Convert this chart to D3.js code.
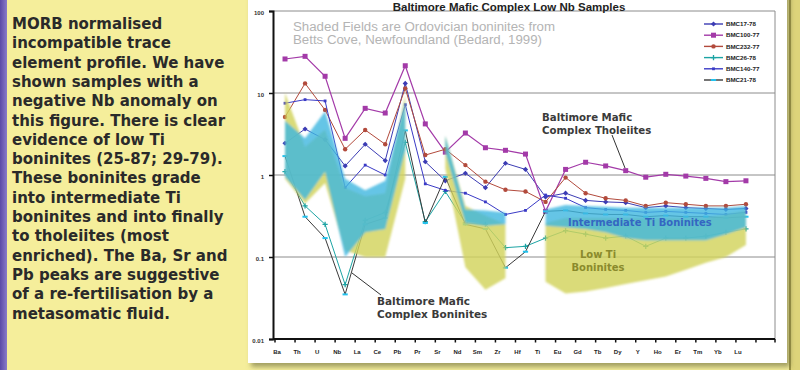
<!DOCTYPE html>
<html>
<head>
<meta charset="utf-8">
<script src="https://cdn.jsdelivr.net/npm/d3@7"></script>
<style>
  html, body { margin: 0; padding: 0; background: #f5ee9b; }
  svg { display: block; }
</style>
</head>
<body>
<svg id="chart" width="800" height="370"></svg>
<script>
// ---- Trace elements (x categories) ----
const elements = ["Ba","Th","U","Nb","La","Ce","Pb","Pr","Sr","Nd","Sm","Zr","Hf","Ti","Eu","Gd","Tb","Dy","Y","Ho","Er","Tm","Yb","Lu"];

// ---- MORB-normalised sample values ----
const bmc17_78  = [2.44, 3.64, 2.7, 1.29, 2.37, 1.5, 13.1, 1.45, 0.85, 1.05, 0.70, 1.39, 1.17, 0.54, 0.60, 0.49, 0.47, 0.46, 0.40, 0.42, 0.40, 0.39, 0.38, 0.39];
const bmc100_77 = [26, 28, 16, 2.8, 6.5, 5.7, 21.5, 4.2, 1.9, 3.25, 2.15, 2.0, 1.8, 0.36, 1.17, 1.43, 1.29, 1.13, 0.94, 1.02, 0.97, 0.91, 0.83, 0.85];
const bmc232_77 = [5.1, 13.1, 6.2, 2.06, 3.54, 2.37, 11.4, 1.75, 2.06, 1.32, 0.83, 0.66, 0.63, 0.47, 0.93, 0.60, 0.52, 0.49, 0.42, 0.46, 0.44, 0.42, 0.42, 0.44];
const bmc26_78  = [1.1, 0.42, 0.25, 0.046, 0.28, 0.35, 2.5, 0.27, 0.63, 0.26, 0.25, 0.13, 0.135, 0.17, 0.21, 0.19, 0.17, 0.18, 0.135, 0.17, 0.17, 0.18, 0.20, 0.22];
const bmc140_77 = [7.5, 8.3, 8.0, 0.70, 1.32, 1.0, 7.2, 0.78, 0.65, 0.60, 0.47, 0.33, 0.37, 0.57, 0.52, 0.40, 0.38, 0.37, 0.35, 0.36, 0.35, 0.34, 0.33, 0.35];
const bmc21_78  = [1.7, 0.31, 0.17, 0.035, 0.25, 0.30, 3.5, 0.26, 0.95, 0.25, 0.22, 0.074, 0.116, 0.36, 0.37, 0.34, 0.33, 0.33, 0.31, 0.32, 0.31, 0.31, 0.30, 0.31];

const seriesNames = ["BMC17-78", "BMC100-77", "BMC232-77", "BMC26-78", "BMC140-77", "BMC21-78"];
const seriesValues = [bmc17_78, bmc100_77, bmc232_77, bmc26_78, bmc140_77, bmc21_78];

// ---- Betts Cove boninite envelopes (Bedard, 1999) ----
const lowTiA_cats  = ["Ba","Th","U","Nb","La","Ce","Pb"];
const lowTiA_upper = [10, 2.2, 3.6, 0.7, 0.55, 0.6, 9.5];
const lowTiA_lower = [0.9, 0.45, 0.8, 0.12, 0.1, 0.1, 0.9];
const interA_upper = [4.6, 2.8, 6.0, 0.9, 0.65, 0.85, 8.0];
const interA_lower = [0.95, 0.5, 1.1, 0.1, 0.2, 0.22, 2.0];

const lowTiB_cats  = ["Sr","Nd","Sm","Zr"];
const lowTiB_upper = [3.0, 0.42, 0.32, 0.25];
const lowTiB_lower = [1.2, 0.075, 0.04, 0.055];
const interB_upper = [3.0, 0.38, 0.37, 0.35];
const interB_lower = [1.9, 0.26, 0.24, 0.25];

const lowTiC_cats  = ["Ti","Eu","Gd","Tb","Dy","Y","Ho","Er","Tm","Yb","Lu"];
const lowTiC_upper = [0.26, 0.3, 0.3, 0.3, 0.3, 0.3, 0.3, 0.3, 0.3, 0.33, 0.37];
const lowTiC_lower = [0.05, 0.036, 0.038, 0.042, 0.047, 0.052, 0.058, 0.07, 0.085, 0.1, 0.14];
const interC_upper = [0.38, 0.43, 0.42, 0.41, 0.4, 0.4, 0.4, 0.4, 0.4, 0.4, 0.42];
const interC_lower = [0.24, 0.23, 0.22, 0.2, 0.17, 0.16, 0.16, 0.16, 0.16, 0.19, 0.23];

// ---- Axis ticks ----
const yTickValues = [0.01, 0.1, 1, 10, 100];
const yTickLabels = ["0.01", "0.1", "1", "10", "100"];

// ---- Side text ----
const descLines = [
  "MORB normalised", "incompatible trace", "element profile. We have",
  "shown samples with a", "negative Nb anomaly on", "this figure. There is clear",
  "evidence of low Ti", "boninites (25-87; 29-79).", "These boninites grade",
  "into intermediate Ti", "boninites and into finally", "to tholeiites (most",
  "enriched). The Ba, Sr and", "Pb peaks are suggestive", "of a re-fertilisation by a",
  "metasomatic fluid."
];

// ---- Series styling ----
const seriesStyle = [
  { color: "#3c3cb4", marker: "diamond", width: 1 },
  { color: "#a33aa8", marker: "square",  width: 1.2 },
  { color: "#b24a3c", marker: "circle",  width: 1 },
  { color: "#1ca4a4", marker: "plus",    width: 1 },
  { color: "#3a3ac6", marker: "small",   width: 1 },
  { color: "#3a3a3a", marker: "dash",    width: 1, markerColor: "#22c2ee" }
];

const svg = d3.select("#chart");
const defs = svg.append("defs");

// Filters
const shadow = defs.append("filter").attr("id", "panelShadow")
  .attr("x", "-5%").attr("y", "-5%").attr("width", "115%").attr("height", "115%");
shadow.append("feDropShadow").attr("dx", 3).attr("dy", 4).attr("stdDeviation", 2.5)
  .attr("flood-color", "#6b6a3a").attr("flood-opacity", 0.6);

const soft = defs.append("filter").attr("id", "soft")
  .attr("x", "-10%").attr("y", "-10%").attr("width", "120%").attr("height", "120%");
soft.append("feGaussianBlur").attr("stdDeviation", 1.1);

const barGrad = defs.append("linearGradient").attr("id", "barGrad").attr("x1", 0).attr("x2", 1);
barGrad.append("stop").attr("offset", "0%").attr("stop-color", "#5a4aa6");
barGrad.append("stop").attr("offset", "100%").attr("stop-color", "#8a7cc8");

// Slide background and left accent bar
svg.append("rect").attr("x", 0).attr("y", 0).attr("width", 800).attr("height", 370).attr("fill", "#f5ee9b");
svg.append("rect").attr("x", 0).attr("y", 0).attr("width", 7).attr("height", 370).attr("fill", "url(#barGrad)");
svg.append("rect").attr("x", 791).attr("y", 0).attr("width", 9).attr("height", 370).attr("fill", "#ddd47a");
svg.append("rect").attr("x", 789).attr("y", 0).attr("width", 2).attr("height", 370).attr("fill", "#9c9444");

// Description text
const desc = svg.append("text")
  .attr("font-family", "DejaVu Sans, sans-serif")
  .attr("font-weight", "bold")
  .attr("font-size", 15)
  .attr("fill", "#2a2a2a");
descLines.forEach((line, i) => {
  desc.append("tspan").attr("x", 12).attr("y", 29 + i * 19.3).text(line);
});

// Chart panel
svg.append("rect").attr("x", 248).attr("y", -10).attr("width", 539).attr("height", 373)
  .attr("fill", "#ffffff").attr("filter", "url(#panelShadow)");

// Plot geometry
const plotLeft = 273, plotRight = 775, plotTop = 11, plotBottom = 339;
const step = 20.04;
const x = d3.scaleBand().domain(elements).range([275, 275 + step * elements.length]).padding(0);
const cx = d => x(d) + x.bandwidth() / 2;
const y = d3.scaleLog().domain([0.01, 100]).range([plotBottom, plotTop]);

// Horizontal gridlines
svg.append("g").selectAll("line").data([0.1, 1, 10]).join("line")
  .attr("x1", plotLeft).attr("x2", plotRight)
  .attr("y1", d => y(d)).attr("y2", d => y(d))
  .attr("stroke", "#8c8c8c").attr("stroke-width", 1);

// Plot frame (top and right)
svg.append("path")
  .attr("d", `M${plotLeft},${plotTop}H${plotRight}V${plotBottom}`)
  .attr("fill", "none").attr("stroke", "#8c8c8c").attr("stroke-width", 1);

// Series lines and markers
function drawMarker(g, type, px, py, color) {
  if (type === "diamond") {
    g.append("path").attr("d", `M${px},${py - 2.6}L${px + 2.6},${py}L${px},${py + 2.6}L${px - 2.6},${py}Z`).attr("fill", color);
  } else if (type === "square") {
    g.append("rect").attr("x", px - 2.5).attr("y", py - 2.5).attr("width", 5).attr("height", 5).attr("fill", color);
  } else if (type === "circle") {
    g.append("circle").attr("cx", px).attr("cy", py).attr("r", 2.2).attr("fill", color);
  } else if (type === "plus") {
    g.append("path").attr("d", `M${px - 2.6},${py}H${px + 2.6}M${px},${py - 2.6}V${py + 2.6}`)
      .attr("stroke", color).attr("stroke-width", 1.3);
  } else if (type === "small") {
    g.append("rect").attr("x", px - 1.4).attr("y", py - 1.4).attr("width", 2.8).attr("height", 2.8).attr("fill", color);
  } else if (type === "dash") {
    g.append("rect").attr("x", px - 2.6).attr("y", py - 1).attr("width", 5.2).attr("height", 2).attr("fill", color);
  }
}

const line = d3.line().x((d, i) => cx(elements[i])).y(d => y(d));
const seriesLayer = svg.append("g");
seriesValues.forEach((vals, k) => {
  const st = seriesStyle[k];
  const g = seriesLayer.append("g");
  g.append("path").attr("d", line(vals)).attr("fill", "none")
    .attr("stroke", st.color).attr("stroke-width", st.width);
  vals.forEach((v, i) => drawMarker(g, st.marker, cx(elements[i]), y(v), st.markerColor || st.color));
});

// Shaded boninite fields
function field(cats, upper, lower) {
  const rows = cats.map((c, i) => ({ c, u: upper[i], l: lower[i] }));
  return d3.area().x(d => cx(d.c)).y0(d => y(d.l)).y1(d => y(d.u))(rows);
}
const fieldLayer = svg.append("g").attr("filter", "url(#soft)");
const yellow = "#d2d35a", blue = "#3fb6e0";
[[lowTiA_cats, lowTiA_upper, lowTiA_lower],
 [lowTiB_cats, lowTiB_upper, lowTiB_lower],
 [lowTiC_cats, lowTiC_upper, lowTiC_lower]].forEach(f => {
  fieldLayer.append("path").attr("d", field(...f)).attr("fill", yellow).attr("fill-opacity", 0.82);
});
[[lowTiA_cats, interA_upper, interA_lower],
 [lowTiB_cats, interB_upper, interB_lower],
 [lowTiC_cats, interC_upper, interC_lower]].forEach(f => {
  fieldLayer.append("path").attr("d", field(...f)).attr("fill", blue).attr("fill-opacity", 0.8);
});

// Y axis
const yAxis = d3.axisLeft(y).tickValues(yTickValues)
  .tickFormat((d, i) => yTickLabels[i]).tickSize(4).tickPadding(5);
const yg = svg.append("g").attr("transform", `translate(${plotLeft},0)`).call(yAxis);
yg.select(".domain").attr("stroke", "#111").attr("stroke-width", 2);
yg.selectAll(".tick line").attr("stroke", "#111").attr("stroke-width", 1.5);
yg.selectAll("text").attr("font-family", "Liberation Sans, Arial, sans-serif")
  .attr("font-size", 6).attr("font-weight", "bold").attr("fill", "#333").attr("dy", "0.55em");

// X axis
const xAxis = d3.axisBottom(x).tickSize(0).tickPadding(11);
const xg = svg.append("g").attr("transform", `translate(0,${plotBottom})`).call(xAxis);
xg.select(".domain").remove();
xg.selectAll("text").attr("font-family", "Liberation Sans, Arial, sans-serif")
  .attr("font-size", 6).attr("font-weight", "bold").attr("fill", "#222").attr("dx", -8);
svg.append("line").attr("x1", plotLeft).attr("x2", plotRight)
  .attr("y1", plotBottom).attr("y2", plotBottom).attr("stroke", "#111").attr("stroke-width", 2);
const boundaries = d3.range(elements.length + 1).map(i => 275 + i * step).concat([plotRight]);
svg.append("g").selectAll("line").data(boundaries).join("line")
  .attr("x1", d => d).attr("x2", d => d)
  .attr("y1", plotBottom).attr("y2", plotBottom + 3.5)
  .attr("stroke", "#111").attr("stroke-width", 1.5);

// Title
svg.append("text").attr("x", 509).attr("y", 10.5).attr("text-anchor", "middle")
  .attr("font-family", "Liberation Sans, Arial, sans-serif").attr("font-weight", "bold")
  .attr("font-size", 11.5).attr("fill", "#222")
  .text("Baltimore Mafic Complex Low Nb Samples");

// Source note
const note = svg.append("text").attr("font-family", "Liberation Sans, Arial, sans-serif")
  .attr("font-size", 12).attr("fill", "#b4b4b4");
note.append("tspan").attr("x", 293).attr("y", 31)
  .attr("textLength", 262).attr("lengthAdjust", "spacingAndGlyphs")
  .text("Shaded Fields are Ordovician boninites from");
note.append("tspan").attr("x", 293).attr("y", 44)
  .attr("textLength", 249).attr("lengthAdjust", "spacingAndGlyphs")
  .text("Betts Cove, Newfoundland (Bedard, 1999)");

// Legend
const legend = svg.append("g");
seriesNames.forEach((name, k) => {
  const st = seriesStyle[k];
  const ly = 24 + k * 11.2;
  legend.append("line").attr("x1", 704).attr("x2", 723).attr("y1", ly).attr("y2", ly)
    .attr("stroke", st.color).attr("stroke-width", 1.4);
  drawMarker(legend, st.marker, 713.5, ly, st.markerColor || st.color);
  legend.append("text").attr("x", 726).attr("y", ly + 2.2)
    .attr("font-family", "Liberation Sans, Arial, sans-serif").attr("font-weight", "bold")
    .attr("font-size", 6.2).attr("fill", "#222").text(name);
});

// Annotations
const annoFont = "DejaVu Sans, sans-serif";
function label(lines, x0, y0, color, size, anchor) {
  const t = svg.append("text").attr("font-family", annoFont).attr("font-weight", "bold")
    .attr("font-size", size).attr("fill", color).attr("text-anchor", anchor || "start");
  lines.forEach((s, i) => t.append("tspan").attr("x", x0).attr("y", y0 + i * 12.5).text(s));
}
label(["Baltimore Mafic", "Complex Tholeiites"], 542, 121, "#3a3a3a", 10.2);
svg.append("line").attr("x1", 612).attr("y1", 135).attr("x2", 625).attr("y2", 168)
  .attr("stroke", "#333").attr("stroke-width", 1);

label(["Intermediate Ti Boninites"], 568, 226, "#3466c2", 10);
label(["Low Ti", "Boninites"], 598, 258, "#8a8a2c", 10, "middle");

label(["Baltimore Mafic", "Complex Boninites"], 377, 305, "#3a3a3a", 10.5);
svg.append("line").attr("x1", 352).attr("y1", 273).attr("x2", 381).attr("y2", 295)
  .attr("stroke", "#333").attr("stroke-width", 1);
</script>
</body>
</html>
